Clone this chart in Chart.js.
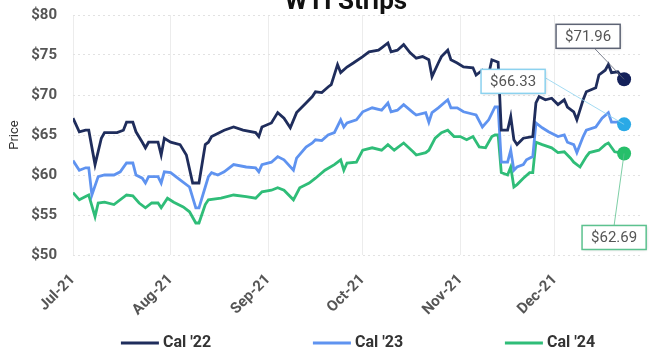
<!DOCTYPE html>
<html>
<head>
<meta charset="utf-8">
<script src="https://cdn.jsdelivr.net/npm/chart.js@4.4.0/dist/chart.umd.min.js"></script>
<style>
  html, body { margin: 0; padding: 0; background: #fff; }
  #wrap { width: 654px; height: 356px; }
</style>
</head>
<body>
<div id="wrap"><canvas id="strips" width="654" height="356"></canvas></div>
<script>
// Eje X: días desde el 1 de julio de 2021
const mesesDias = [0, 31, 62, 92, 123, 153];
const mesesEtiquetas = ['Jul-21', 'Aug-21', 'Sep-21', 'Oct-21', 'Nov-21', 'Dec-21'];

const seriesNombres = ["Cal '22", "Cal '23", "Cal '24"];

// Cal '22
const dias22 = [0, 2, 4, 5, 7, 9, 10, 14, 16, 17, 19, 20, 22, 23, 24, 27, 28, 29, 31, 34, 36, 38, 40, 42, 43, 44, 45, 48, 51, 54, 58, 59, 60, 63, 65, 67, 69, 71, 74, 76, 77, 79, 81, 82, 84, 85, 87, 89, 92, 94, 97, 98, 100, 101, 103, 105, 107, 109, 111, 113, 114, 116, 117, 119, 120, 122, 124, 127, 128, 130, 132, 133, 135, 136, 138, 139, 140, 141, 143, 146, 147, 148, 150, 152, 154, 156, 157, 159, 160, 162, 163, 166, 167, 169, 170, 171, 173, 175];
const cal22 = [67.1, 65.4, 65.6, 65.6, 61.3, 64.6, 65.3, 65.3, 65.6, 66.6, 66.6, 65.4, 64.1, 63.4, 64.1, 64.1, 62.5, 64.6, 64.1, 63.8, 62.5, 59.0, 59.0, 63.8, 64.1, 64.8, 65.0, 65.6, 66.0, 65.6, 65.3, 64.8, 66.0, 66.5, 67.8, 67.1, 65.9, 67.8, 69.0, 69.8, 70.4, 70.3, 71.0, 71.3, 73.8, 72.8, 73.5, 74.0, 74.8, 75.4, 75.6, 75.9, 76.5, 75.4, 75.6, 76.3, 75.3, 74.6, 74.8, 74.4, 72.3, 74.0, 74.8, 75.6, 74.4, 74.0, 73.5, 73.4, 72.5, 73.1, 72.6, 74.4, 74.1, 65.6, 65.6, 67.3, 64.4, 63.8, 64.6, 64.8, 69.0, 69.8, 69.4, 69.6, 68.8, 69.4, 68.5, 67.9, 66.9, 69.4, 70.4, 70.9, 72.5, 73.1, 73.8, 72.8, 72.9, 71.96];

// Cal '23
const dias23 = [0, 2, 4, 5, 6, 8, 10, 13, 15, 17, 19, 20, 22, 23, 24, 27, 28, 29, 31, 34, 37, 39, 40, 42, 43, 44, 46, 48, 51, 55, 58, 59, 60, 63, 65, 67, 70, 71, 74, 76, 77, 79, 81, 83, 85, 86, 87, 90, 92, 95, 98, 100, 101, 103, 105, 108, 109, 112, 113, 114, 116, 119, 120, 122, 124, 128, 130, 132, 134, 135, 136, 138, 139, 140, 141, 143, 144, 146, 147, 149, 151, 154, 156, 157, 159, 160, 162, 163, 166, 168, 170, 171, 173, 175];
const cal23 = [61.8, 60.6, 60.9, 60.9, 57.5, 59.8, 60.0, 60.0, 60.4, 61.5, 61.5, 60.0, 59.6, 59.0, 59.8, 59.8, 59.0, 60.4, 60.3, 59.4, 58.5, 55.9, 55.9, 58.5, 59.8, 60.3, 60.0, 60.4, 61.3, 61.0, 60.9, 60.4, 61.3, 61.6, 62.3, 61.9, 60.6, 62.1, 63.5, 64.0, 64.4, 64.3, 65.0, 65.3, 66.9, 66.0, 66.5, 66.9, 67.9, 68.4, 68.1, 69.0, 67.9, 68.1, 68.8, 67.8, 67.5, 67.8, 66.6, 67.8, 68.4, 69.4, 68.4, 68.4, 67.9, 67.5, 66.0, 66.9, 68.5, 68.5, 61.6, 61.6, 63.1, 60.6, 61.0, 61.3, 61.9, 62.3, 66.5, 65.9, 65.4, 64.8, 65.0, 64.1, 63.8, 62.8, 64.8, 65.6, 66.0, 67.1, 67.8, 66.6, 66.6, 66.33];

// Cal '24
const dias24 = [0, 2, 4, 5, 7, 8, 10, 13, 17, 19, 21, 23, 25, 27, 28, 30, 32, 35, 37, 39, 40, 42, 43, 47, 51, 55, 58, 60, 63, 65, 67, 70, 72, 75, 77, 80, 83, 85, 86, 87, 90, 92, 95, 98, 100, 102, 105, 108, 109, 112, 113, 115, 117, 119, 121, 123, 125, 127, 129, 131, 133, 134, 135, 136, 138, 139, 140, 141, 143, 145, 146, 147, 149, 152, 154, 156, 158, 159, 161, 163, 164, 167, 169, 170, 172, 175];
const cal24 = [57.8, 56.9, 57.3, 57.5, 54.8, 56.5, 56.6, 56.3, 57.5, 57.4, 56.5, 55.9, 56.5, 56.5, 55.9, 57.1, 56.6, 56.0, 55.4, 54.0, 54.0, 56.3, 56.9, 57.1, 57.5, 57.3, 57.1, 57.9, 58.1, 58.4, 58.1, 56.9, 58.4, 59.0, 59.6, 60.6, 61.3, 61.9, 60.6, 61.5, 61.6, 63.1, 63.4, 63.1, 63.8, 63.1, 64.0, 62.9, 62.5, 62.8, 63.1, 64.6, 65.3, 65.6, 64.8, 64.8, 64.4, 64.8, 63.5, 63.4, 64.8, 65.0, 65.0, 60.3, 60.0, 61.0, 58.5, 58.8, 59.6, 60.3, 60.3, 64.1, 63.8, 63.4, 62.8, 62.9, 62.1, 61.6, 61.0, 62.3, 62.8, 63.1, 63.8, 64.0, 62.9, 62.69];

const coloresLinea = ['#1f2d5c', '#5f93f0', '#2fbd78'];
const coloresPunto = ['#14215a', '#2aa9e6', '#27bf6a'];
const coloresCaja = ['#5d6374', '#8cd2ef', '#5cc28f'];

function puntos(dias, valores) {
    return dias.map((d, i) => ({ x: d, y: valores[i] }));
}

const grupos = [[dias22, cal22], [dias23, cal23], [dias24, cal24]];

const datasets = grupos.map(([d, v], i) => ({
    label: seriesNombres[i],
    data: puntos(d, v),
    borderColor: coloresLinea[i],
    backgroundColor: coloresPunto[i],
    borderWidth: 2.8,
    tension: 0,
    pointRadius: ctx => ctx.dataIndex === d.length - 1 ? 7 : 0,
    pointBackgroundColor: coloresPunto[i],
    pointBorderWidth: 0,
    pointHoverRadius: 0
}));

// Cajas con el último valor de cada serie (desplazamiento respecto al punto final)
const etiquetasFinales = [
    { dx: -36, dy: -43, ancla: [0.6, 1] },
    { dx: -111, dy: -43, ancla: [1, 0.35] },
    { dx: -10, dy: 84, ancla: [0.5, 0] }
];

const tituloPlugin = {
    id: 'tituloRecortado',
    afterDraw(chart) {
        const ctx = chart.ctx;
        ctx.save();
        ctx.font = 'bold 26px Roboto, sans-serif';
        ctx.fillStyle = '#111';
        ctx.textAlign = 'center';
        ctx.textBaseline = 'alphabetic';
        ctx.fillText('WTI Strips', 346, 9);
        ctx.restore();
    }
};

const etiquetasPlugin = {
    id: 'etiquetasFinales',
    afterDatasetsDraw(chart) {
        const ctx = chart.ctx;
        ctx.save();
        ctx.font = '15px Roboto, sans-serif';
        chart.data.datasets.forEach((ds, i) => {
            const meta = chart.getDatasetMeta(i);
            const ultimo = meta.data[meta.data.length - 1];
            const valor = ds.data[ds.data.length - 1].y;
            const texto = '$' + valor.toFixed(2);
            const cfg = etiquetasFinales[i];
            const w = ctx.measureText(texto).width + 18;
            const h = 24;
            const cx = ultimo.x + cfg.dx, cy = ultimo.y + cfg.dy;
            const bx = cx - w / 2, by = cy - h / 2;

            // línea guía hasta el punto
            ctx.strokeStyle = coloresCaja[i];
            ctx.globalAlpha = 0.8;
            ctx.lineWidth = 1;
            ctx.beginPath();
            ctx.moveTo(ultimo.x, ultimo.y);
            ctx.lineTo(bx + w * cfg.ancla[0], by + h * cfg.ancla[1]);
            ctx.stroke();
            ctx.globalAlpha = 1;

            // caja
            ctx.shadowColor = 'rgba(0,0,0,0.25)';
            ctx.shadowBlur = 3;
            ctx.shadowOffsetX = 1;
            ctx.shadowOffsetY = 1;
            ctx.fillStyle = '#fff';
            ctx.fillRect(bx, by, w, h);
            ctx.shadowColor = 'transparent';
            ctx.lineWidth = 1.5;
            ctx.strokeStyle = coloresCaja[i];
            ctx.strokeRect(bx, by, w, h);

            ctx.fillStyle = '#555';
            ctx.textAlign = 'center';
            ctx.textBaseline = 'middle';
            ctx.fillText(texto, cx, cy + 1);
        });
        ctx.restore();
    }
};

// Leyenda centrada sobre el área del gráfico
const leyendaPlugin = {
    id: 'leyendaInferior',
    afterDraw(chart) {
        const ctx = chart.ctx;
        const area = chart.chartArea;
        const centro = (area.left + area.right) / 2;
        const separacion = 192;
        const y = 343;
        ctx.save();
        ctx.font = 'bold 16px Roboto, sans-serif';
        ctx.textBaseline = 'middle';
        chart.data.datasets.forEach((ds, i) => {
            const tw = ctx.measureText(ds.label).width;
            const ancho = 38 + 4 + tw;
            const x0 = centro + (i - 1) * separacion - ancho / 2;
            ctx.strokeStyle = ds.borderColor;
            ctx.lineWidth = 3;
            ctx.beginPath();
            ctx.moveTo(x0, y);
            ctx.lineTo(x0 + 38, y);
            ctx.stroke();
            ctx.fillStyle = '#333';
            ctx.textAlign = 'left';
            ctx.fillText(ds.label, x0 + 42, y);
        });
        ctx.restore();
    }
};

new Chart(document.getElementById('strips'), {
    type: 'line',
    data: { datasets },
    plugins: [tituloPlugin, etiquetasPlugin, leyendaPlugin],
    options: {
        responsive: false,
        animation: false,
        devicePixelRatio: 1,
        layout: { padding: { top: 15, right: 11, left: 0, bottom: 0 } },
        plugins: {
            legend: { display: false },
            title: { display: false },
            tooltip: { enabled: false }
        },
        scales: {
            x: {
                type: 'linear',
                min: 0,
                max: 181,
                afterBuildTicks: scale => {
                    scale.ticks = mesesDias.map(v => ({ value: v }));
                },
                afterFit: scale => {
                    scale.height = 101;
                    scale.paddingLeft = 0;
                    scale.paddingRight = 0;
                },
                ticks: {
                    autoSkip: false,
                    minRotation: 45,
                    maxRotation: 45,
                    padding: 16,
                    color: '#555',
                    font: { family: 'Roboto', size: 15, weight: 'bold' },
                    callback: v => mesesEtiquetas[mesesDias.indexOf(v)]
                },
                grid: { color: '#ececec', lineWidth: 1, drawTicks: false },
                border: { display: false }
            },
            y: {
                min: 50,
                max: 80,
                afterFit: scale => {
                    scale.width = 73;
                    scale.paddingTop = 0;
                    scale.paddingBottom = 0;
                },
                ticks: {
                    stepSize: 5,
                    padding: 16,
                    color: '#555',
                    font: { family: 'Roboto', size: 15, weight: 'bold' },
                    callback: v => '$' + v
                },
                title: {
                    display: true,
                    text: 'Price',
                    color: '#333',
                    font: { family: 'Roboto', size: 13 },
                    padding: { top: 7, bottom: 0 }
                },
                grid: { color: '#e2e2e2', lineWidth: 1, drawTicks: false },
                border: { display: false, dash: [2, 3] }
            }
        }
    }
});
</script>
</body>
</html>
